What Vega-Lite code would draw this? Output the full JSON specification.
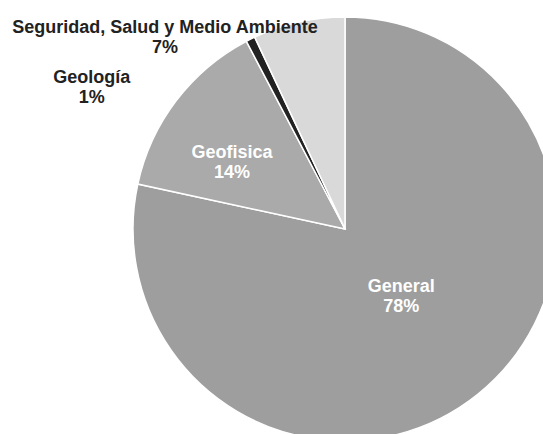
{
  "$schema": "https://vega.github.io/schema/vega-lite/v6.json",
  "width": 690,
  "height": 458,
  "autosize": "none",
  "padding": 0,
  "background": "white",
  "config": {"view": {"stroke": null}},
  "data": {
    "values": [
      {"cat": "General", "value": 78.4, "o": 1, "label": "General\n78%"},
      {"cat": "Geofisica", "value": 13.9, "o": 2, "label": "Geofisica\n14%"},
      {"cat": "Geología", "value": 0.7, "o": 3, "label": "Geología\n1%"},
      {"cat": "Seguridad, Salud y Medio Ambiente", "value": 7.0, "o": 4, "label": "Seguridad, Salud y Medio Ambiente\n7%"}
    ]
  },
  "encoding": {
    "theta": {"field": "value", "type": "quantitative", "stack": true},
    "order": {"field": "o", "type": "quantitative"}
  },
  "layer": [
    {
      "mark": {"type": "arc", "outerRadius": 212, "stroke": "white", "strokeWidth": 1.5},
      "encoding": {
        "color": {
          "field": "cat",
          "type": "nominal",
          "scale": {
            "domain": ["General", "Geofisica", "Geología", "Seguridad, Salud y Medio Ambiente"],
            "range": ["#9e9e9e", "#aaaaaa", "#222222", "#d9d9d9"]
          },
          "legend": null
        }
      }
    },
    {
      "mark": {"type": "text", "radius": 81, "thetaOffset": -0.089, "font": "Liberation Sans", "fontWeight": "bold", "fontSize": 18, "lineBreak": "\n", "lineHeight": 20, "fill": "white", "baseline": "middle", "align": "center"},
      "encoding": {
        "text": {"condition": {"test": "datum.cat === 'General'", "field": "label"}, "value": ""}
      }
    },
    {
      "mark": {"type": "text", "radius": 136, "thetaOffset": -0.059, "font": "Liberation Sans", "fontWeight": "bold", "fontSize": 18, "lineBreak": "\n", "lineHeight": 20, "fill": "white", "baseline": "middle", "align": "center"},
      "encoding": {
        "text": {"condition": {"test": "datum.cat === 'Geofisica'", "field": "label"}, "value": ""}
      }
    },
    {
      "mark": {"type": "text", "radius": 295, "thetaOffset": -0.571, "font": "Liberation Sans", "fontWeight": "bold", "fontSize": 18, "lineBreak": "\n", "lineHeight": 20, "fill": "#222222", "baseline": "middle", "align": "center"},
      "encoding": {
        "text": {"condition": {"test": "datum.cat === 'Geología'", "field": "label"}, "value": ""}
      }
    },
    {
      "mark": {"type": "text", "radius": 270, "thetaOffset": -0.510, "font": "Liberation Sans", "fontWeight": "bold", "fontSize": 18, "lineBreak": "\n", "lineHeight": 20, "fill": "#222222", "baseline": "middle", "align": "center"},
      "encoding": {
        "text": {"condition": {"test": "datum.cat === 'Seguridad, Salud y Medio Ambiente'", "field": "label"}, "value": ""}
      }
    }
  ]
}
